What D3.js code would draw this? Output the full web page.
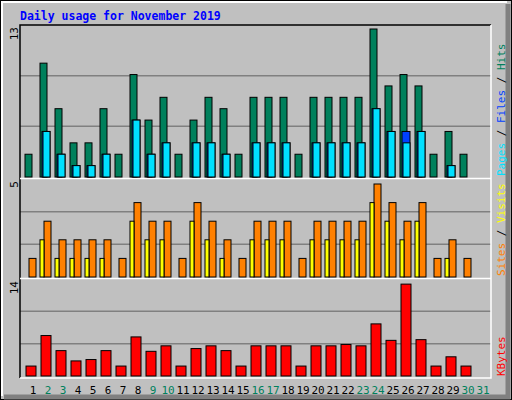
<!DOCTYPE html>
<html><head><meta charset="utf-8">
<script src="https://cdn.jsdelivr.net/npm/d3@7"></script>
<style>body{margin:0;background:#fff}text{font-family:"DejaVu Sans Mono",monospace}</style>
</head><body><svg id="chart" width="512" height="400"></svg>
<script>
const days = d3.range(1, 32);
const weekend = [2, 3, 9, 10, 16, 17, 23, 24, 30, 31];
const hits   = [2,10,6,3,3,6,2,9,5,7,2,5,7,6,2,7,7,7,2,7,7,7,7,13,8,9,8,2,4,2,0];
const files  = [0,4,2,1,1,2,0,5,2,3,0,3,3,2,0,3,3,3,0,3,3,3,3,6,4,4,4,0,1,0,0];
const pages  = [0,4,2,1,1,2,0,5,2,3,0,3,3,2,0,3,3,3,0,3,3,3,3,6,4,3,4,0,1,0,0];
const visits = [1,3,2,2,2,2,1,4,3,3,1,4,3,2,1,3,3,3,1,3,3,3,3,5,4,3,4,1,2,1,0];
const sites  = [0,2,1,1,1,1,0,3,2,2,0,3,2,1,0,2,2,2,0,2,2,2,2,4,3,2,3,0,1,0,0];
const kbytes = [1.45,5.9,3.7,2.2,2.4,3.7,1.45,5.7,3.6,4.4,1.45,4.0,4.4,3.7,1.45,4.4,4.4,4.4,1.45,4.4,4.4,4.6,4.4,7.6,5.2,13.4,5.3,1.45,2.8,1.45,0];
const maxLabels = ["13", "5", "14"];

const svg = d3.select("#chart");
const left = 20, right = 491;
const x = d3.scaleBand().domain(days).range([25, 490]).paddingInner(0).paddingOuter(0);

// background frame with bevel
svg.append("rect").attr("x", 0.5).attr("y", 0.5).attr("width", 511).attr("height", 399).attr("fill", "#c0c0c0").attr("stroke", "#000");
svg.append("path").attr("d", "M2,396V2H507").attr("fill", "none").attr("stroke", "#fff").attr("stroke-width", 2);
svg.append("path").attr("d", "M508,4V397H4").attr("fill", "none").attr("stroke", "#808080").attr("stroke-width", 5);

svg.append("text").attr("x", 20).attr("y", 20).attr("fill", "#0000ff").attr("font-size", 11.5).attr("font-weight", "bold")
  .text("Daily usage for November 2019");

const panels = [
  { top: 25, base: 177, barTop: 29, max: 13, label: maxLabels[0] },
  { top: 179, base: 277, barTop: 184, max: 5, label: maxLabels[1] },
  { top: 279, base: 376, barTop: 280, max: 14, label: maxLabels[2] }
];
panels.forEach(p => {
  p.y = d3.scaleLinear().domain([0, p.max]).range([p.base, p.barTop]);
  const h = p.base - p.top;
  [1, 2].forEach(k => svg.append("line").attr("x1", left).attr("x2", right)
    .attr("y1", p.base - h * k / 3).attr("y2", p.base - h * k / 3).attr("stroke", "#808080").attr("stroke-width", 1.5));
  svg.append("text").attr("transform", `translate(18,${p.top + 2}) rotate(-90)`).attr("text-anchor", "end")
    .attr("font-size", 11).attr("fill", "#000").text(p.label);
});
// panel frame
svg.append("path").attr("d", `M${left},378V25H${right}`).attr("fill", "none").attr("stroke", "#000").attr("stroke-width", 1.5);
svg.append("path").attr("d", `M${right},25V378H${left}M${left},178.5H${right}M${left},278.5H${right}`).attr("fill", "none").attr("stroke", "#fff").attr("stroke-width", 1.5);

function bars(vals, p, off, w, color) {
  svg.append("g").selectAll("rect").data(vals.map((v, i) => ({ d: i + 1, v })).filter(o => o.v > 0)).join("rect")
    .attr("x", o => x(o.d) + off).attr("width", w)
    .attr("y", o => p.y(o.v)).attr("height", o => p.y(0) - p.y(o.v))
    .attr("fill", color).attr("stroke", "#000").attr("stroke-width", 1);
}
bars(hits, panels[0], 0, 7, "#00805c");
bars(files, panels[0], 2, 8, "#0040ff");
bars(pages, panels[0], 3, 7, "#00e0ff");
bars(visits, panels[1], 4, 7, "#ff8000");
bars(sites, panels[1], 0, 4, "#ffff00");
bars(kbytes, panels[2], 1, 10, "#ff0000");

// day labels
svg.append("g").selectAll("text").data(days).join("text")
  .attr("x", d => x(d) + 8).attr("y", 394).attr("text-anchor", "middle").attr("font-size", 11)
  .attr("fill", d => weekend.includes(d) ? "#00805c" : "#000").text(d => d);

// right legends
function legend(yBottom, parts) {
  const t = svg.append("text").attr("transform", `translate(505,${yBottom}) rotate(-90)`).attr("font-size", 11);
  parts.forEach(([s, c]) => t.append("tspan").attr("fill", c).text(s));
}
legend(176, [["Pages", "#00e0ff"], [" / ", "#000"], ["Files", "#0040ff"], [" / ", "#000"], ["Hits", "#00805c"]]);
legend(276, [["Sites", "#ff8000"], [" / ", "#000"], ["Visits", "#ffff00"]]);
legend(376, [["KBytes", "#ff0000"]]);
</script></body></html>
